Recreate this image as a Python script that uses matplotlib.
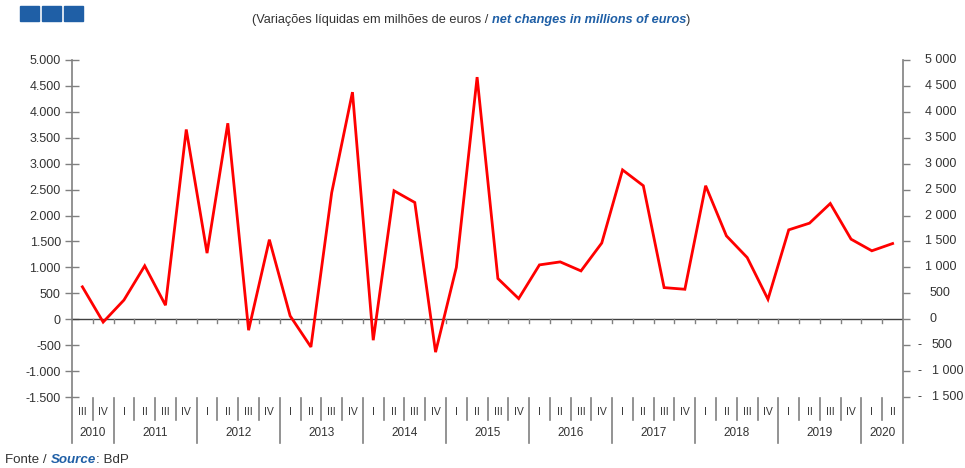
import matplotlib
matplotlib.use("Agg")
import matplotlib.pyplot as plt
from matplotlib.patches import Rectangle
from matplotlib.lines import Line2D
from matplotlib.transforms import blended_transform_factory

plt.rcParams['font.family'] = ['Liberation Sans', 'DejaVu Sans']

years = ["2010", "2011", "2012", "2013", "2014", "2015", "2016", "2017", "2018", "2019", "2020"]
quarters_per_year = [["III", "IV"]] + [["I", "II", "III", "IV"]] * 9 + [["I", "II"]]
values = [625, -55, 370, 1030, 270, 3660, 1275, 3780, -212, 1535,
          65, -535, 2440, 4380, -405, 2478, 2252, -635, 1000, 4670,
          785, 398, 1048, 1106, 932, 1470, 2880, 2575, 610, 578,
          2575, 1608, 1190, 385, 1724, 1853, 2232, 1544, 1320, 1460]
yticks = [-1500, -1000, -500, 0, 500, 1000, 1500, 2000, 2500, 3000, 3500, 4000, 4500, 5000]

W, H = 965, 468
fig = plt.figure(figsize=(W / 100, H / 100), dpi=100)
x0, x1, ytop, ybot = 72, 903, 60, 397
ax = fig.add_axes([x0 / W, 1 - ybot / H, (x1 - x0) / W, (ybot - ytop) / H])

n = len(values)
ax.plot(range(n), values, color='#ff0000', lw=2.0, solid_joinstyle='miter', zorder=3)
ax.set_xlim(-0.5, n - 0.5)
ax.set_ylim(-1500, 5000)
ax.axhline(0, color='#404040', lw=1.0, zorder=2)

grey = '#808080'
txtc = '#333333'
fs = 9
for s in ['top', 'bottom', 'left', 'right']:
    ax.spines[s].set_visible(False)
ax.set_xticks([])
ax.set_yticks(yticks)
ax.set_yticklabels([f"{v:,}".replace(",", ".") for v in yticks], fontsize=fs, color=txtc)
ax.tick_params(axis='y', direction='inout', length=10, width=1, color=grey, pad=3)

# right axis ticks and labels
ax2 = ax.twinx()
ax2.set_ylim(ax.get_ylim())
ax2.set_yticks(yticks)
ax2.set_yticklabels([])
ax2.tick_params(axis='y', direction='out', length=5, width=1, color=grey)
for s in ['top', 'bottom', 'left', 'right']:
    ax2.spines[s].set_visible(False)
tr_r = blended_transform_factory(fig.transFigure, ax.transData)
for v in yticks:
    if v < 0:
        fig.text(917 / W, v, "-", transform=tr_r, ha='left', va='center', fontsize=fs, color=txtc)
        fig.text(932 / W, v, f"{-v:,}".replace(",", " "), transform=tr_r, ha='left', va='center', fontsize=fs, color=txtc)
    else:
        xpos = 925 if v >= 1000 else 930
        fig.text(xpos / W, v, f"{v:,}".replace(",", " "), transform=tr_r, ha='left', va='center', fontsize=fs, color=txtc)

def fy(p):
    return 1 - p / H

# small downward ticks on the zero line at category boundaries
tr_x = blended_transform_factory(ax.transData, fig.transFigure)
zero_pix = ybot - (0 - (-1500)) / 6500 * (ybot - ytop)
for k in range(1, n):
    ax.add_line(Line2D([k - 0.5, k - 0.5], [fy(zero_pix), fy(zero_pix + 4)], transform=tr_x,
                       color=grey, lw=1.0, clip_on=False, zorder=2))

# vertical axis lines extended down through the category area
fig.add_artist(Line2D([x0 / W, x0 / W], [fy(ytop), fy(443)], color=grey, lw=1.2))
fig.add_artist(Line2D([x1 / W, x1 / W], [fy(ytop), fy(443)], color=grey, lw=1.2))

# category axis
cw = (x1 - x0) / n
idx = 0
for yi, (yr, qs) in enumerate(zip(years, quarters_per_year)):
    start = idx
    for qi, q in enumerate(qs):
        cx = x0 + (idx + 0.5) * cw
        fig.text(cx / W, fy(412), q, ha='center', va='center', fontsize=7.5, color=txtc)
        if qi > 0:
            bx = x0 + idx * cw
            fig.add_artist(Line2D([bx / W, bx / W], [fy(398), fy(420)], color=grey, lw=1.2))
        idx += 1
    ycx = x0 + (start + idx) / 2 * cw
    fig.text(ycx / W, fy(433), yr, ha='center', va='center', fontsize=8.5, color=txtc)
    if idx < n:
        bx = x0 + idx * cw
        fig.add_artist(Line2D([bx / W, bx / W], [fy(398), fy(443)], color=grey, lw=1.2))

# logo
blue = '#1f5fa6'
for i in range(3):
    fig.add_artist(Rectangle(((20 + i * 22) / W, fy(21)), 19 / W, 15 / H, color=blue, transform=fig.transFigure))

fig.canvas.draw()
r = fig.canvas.get_renderer()

def write_seq(parts, xstart, ypix, size):
    x = xstart
    for txt, kw in parts:
        t = fig.text(x / W, fy(ypix), txt, va='center', ha='left', fontsize=size, **kw)
        x += t.get_window_extent(renderer=r).width
    return x

def seq_width(parts, size):
    tmp = [fig.text(0, 0, p[0], fontsize=size, **{k: v for k, v in p[1].items() if k != 'color'}) for p in parts]
    w = sum(t.get_window_extent(renderer=r).width for t in tmp)
    for t in tmp:
        t.remove()
    return w

title_parts = [("(Variações líquidas em milhões de euros / ", dict(color=txtc)),
               ("net changes in millions of euros", dict(color=blue, fontweight='bold', fontstyle='italic')),
               (")", dict(color=txtc))]
tsize = 9.2
write_seq(title_parts, 471 - seq_width(title_parts, tsize) / 2, 20, tsize)

write_seq([("Fonte / ", dict(color=txtc)), ("Source", dict(color=blue, fontweight='bold', fontstyle='italic')),
           (": BdP", dict(color=txtc))], 5, 460, 9.6)

fig.savefig("out.png", dpi=100)
